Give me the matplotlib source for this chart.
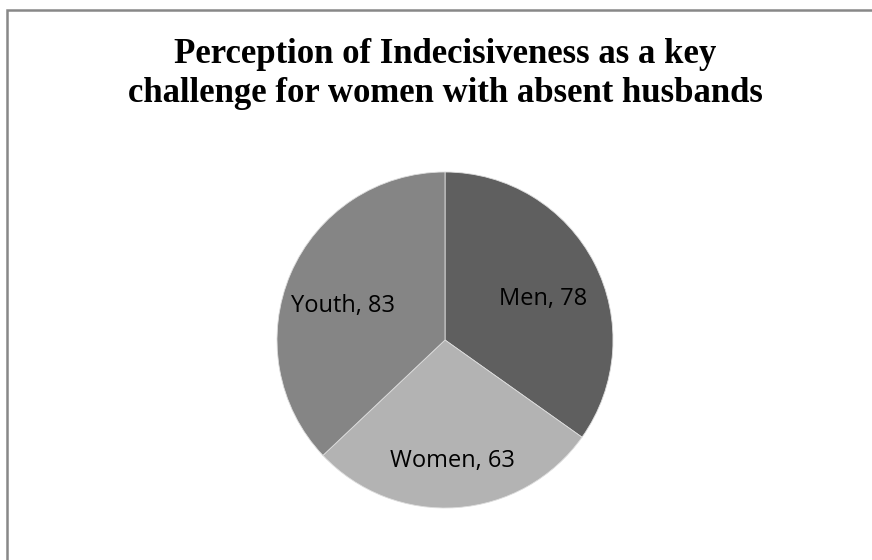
import matplotlib
matplotlib.use("Agg")
import matplotlib.pyplot as plt
from matplotlib.patches import Rectangle

categories = ["Men", "Women", "Youth"]
values = [78, 63, 83]
colors = ["#5f5f5f", "#b3b3b3", "#858585"]
title = "Perception of Indecisiveness as a key\nchallenge for women with absent husbands"

W, H = 872, 560
fig = plt.figure(figsize=(W / 100, H / 100), dpi=100)

# border
fig.patches.append(Rectangle((7 / W, -0.01), 1.02, 1 - 10 / H + 0.01, transform=fig.transFigure,
                             fill=False, edgecolor="#888888", linewidth=1.8))

cx, cy, r = 445, 340, 168
ax = fig.add_axes([(cx - r) / W, (H - cy - r) / H, 2 * r / W, 2 * r / H])
labels = [f"{c}, {v}" for c, v in zip(categories, values)]
wedges, texts = ax.pie(values, colors=colors, startangle=90, counterclock=False,
                       labels=labels, labeldistance=0.66,
                       wedgeprops=dict(edgecolor="#dddddd", linewidth=0.6),
                       textprops=dict(fontsize=17, family=["Open Sans", "DejaVu Sans"], color="black"))
for t in texts:
    t.set_ha("center")
    t.set_va("center")
    x, y = t.get_position()
    t.set_position((x, y - 0.06))
ax.set_xlim(-1, 1)
ax.set_ylim(-1, 1)
ax.set_aspect("equal")

for line, base in zip(title.split("\n"), [63, 102]):
    fig.text(cx / W, 1 - base / H, line, ha="center", va="baseline", fontsize=25,
             fontweight="bold", family="Liberation Serif")

fig.savefig("out.png", dpi=100)
